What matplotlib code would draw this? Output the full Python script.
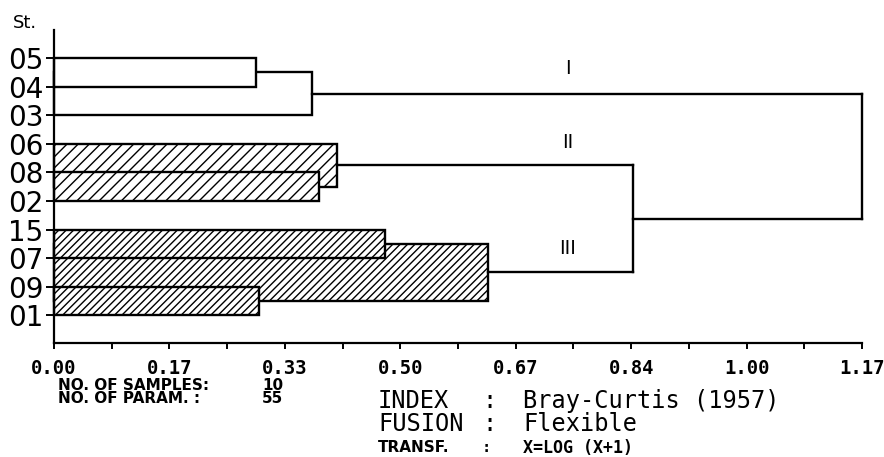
import matplotlib
matplotlib.use("Agg")
import matplotlib.pyplot as plt
from matplotlib.patches import Rectangle
import numpy as np


# Stations in dendrogram (leaf) order, top to bottom.
STATIONS = ["05", "04", "03", "06", "08", "02", "15", "07", "09", "01"]

# Fusions: leaves are 0..9, each fusion creates node 10, 11, ...
MERGE_LEFT = [0, 10, 4, 3, 8, 6, 15, 13, 11]
MERGE_RIGHT = [1, 2, 5, 12, 9, 7, 14, 16, 17]
MERGE_HEIGHT = [0.293, 0.373, 0.384, 0.410, 0.297, 0.480, 0.629, 0.838, 1.17]
MERGE_GROUP = ["I", "I", "II", "II", "III", "III", "III", None, None]

GROUP_LABELS = ["I", "II", "III"]
X_TICK_LABELS = ["0.00", "0.17", "0.33", "0.50", "0.67", "0.84", "1.00", "1.17"]

N_SAMPLES = 10
N_PARAMS = 55
INDEX_NAME = "Bray-Curtis (1957)"
FUSION_NAME = "Flexible"
TRANSF_NAME = "X=LOG (X+1)"

W, H = 884, 457
MONO = "DejaVu Sans Mono"
# hatch spacing ~ dpi / (3 * count) px -> about 11 px and 7.5 px
HATCH = {"I": None, "II": "//////", "III": "/////////"}


def px(x, y):
    return x / W, 1 - y / H


def build_dendrogram() -> None:
    plt.rcParams["hatch.linewidth"] = 0.5

    fig = plt.figure(figsize=(W / 200, H / 200), dpi=200)
    ax = fig.add_axes([54 / W, (H - 343) / H, (862 - 54) / W, (343 - 30) / H])

    n = len(STATIONS)
    ypos = list(range(n))
    height = [0.0] * n
    for l, r, h in zip(MERGE_LEFT, MERGE_RIGHT, MERGE_HEIGHT):
        ypos.append((ypos[l] + ypos[r]) / 2)
        height.append(h)

    # Within-group fusions as boxes, parents first so children cover them.
    for k in reversed(range(len(MERGE_HEIGHT))):
        grp = MERGE_GROUP[k]
        if grp is None:
            continue
        l, r, h = MERGE_LEFT[k], MERGE_RIGHT[k], MERGE_HEIGHT[k]
        ax.add_patch(Rectangle((0, ypos[l]), h, ypos[r] - ypos[l],
                               facecolor="white", edgecolor="black",
                               hatch=HATCH[grp], linewidth=0.85, clip_on=False))

    # Between-group fusions as plain links.
    for k in range(len(MERGE_HEIGHT)):
        if MERGE_GROUP[k] is not None:
            continue
        l, r, h = MERGE_LEFT[k], MERGE_RIGHT[k], MERGE_HEIGHT[k]
        for c in (l, r):
            ax.plot([height[c], h], [ypos[c], ypos[c]], color="black",
                    linewidth=0.85, clip_on=False, solid_capstyle="projecting")
        ax.plot([h, h], [ypos[l], ypos[r]], color="black", linewidth=0.85,
                clip_on=False, solid_capstyle="projecting")

    for lab, (gx, gy) in zip(GROUP_LABELS, [(0.744, 0.38), (0.744, 2.94), (0.744, 6.68)]):
        ax.text(gx, gy, lab, ha="center", va="center", fontsize=7,
                fontfamily="DejaVu Sans")

    ax.set_xlim(0, 1.17)
    ax.set_ylim(9.97, -0.98)

    major = np.linspace(0, 1.17, len(X_TICK_LABELS))
    minor = np.linspace(0, 1.17, 2 * len(X_TICK_LABELS) - 1)
    ax.set_xticks(major, X_TICK_LABELS)
    ax.set_xticks(minor, minor=True)
    ax.tick_params(axis="x", which="both", direction="out", length=2.2,
                   width=0.7, pad=3.5, labelsize=6.8)
    for t in ax.get_xticklabels():
        t.set_fontfamily(MONO)
        t.set_fontweight("bold")

    ax.set_yticks(range(n), STATIONS)
    ax.tick_params(axis="y", direction="out", length=2.9, width=0.7, pad=1,
                   labelsize=10)

    for side in ("top", "right"):
        ax.spines[side].set_visible(False)
    for side in ("left", "bottom"):
        ax.spines[side].set_linewidth(0.8)

    fig.text(*px(25, 23), "St.", ha="center", va="center", fontsize=6.5)

    small = dict(fontfamily="DejaVu Sans", fontweight="bold", fontsize=5.5,
                 va="center", linespacing=0.78)
    fig.text(*px(58, 392), "NO. OF SAMPLES:\nNO. OF PARAM. :", **small)
    fig.text(*px(262, 392), f"{N_SAMPLES}\n{N_PARAMS}", **small)

    big = dict(fontfamily=MONO, fontsize=8.5, va="center")
    fig.text(*px(378, 401), "INDEX", **big)
    fig.text(*px(482, 401), ":", **big)
    fig.text(*px(523, 401), INDEX_NAME, **big)
    fig.text(*px(378, 424), "FUSION", **big)
    fig.text(*px(482, 424), ":", **big)
    fig.text(*px(523, 424), FUSION_NAME, **big)
    fig.text(*px(378, 448), "TRANSF.", fontfamily="DejaVu Sans",
             fontweight="bold", fontsize=5.5, va="center")
    fig.text(*px(482, 448), ":", fontfamily=MONO, fontweight="bold",
             fontsize=5.5, va="center")
    fig.text(*px(523, 448), TRANSF_NAME, fontfamily=MONO, fontweight="bold",
             fontsize=6.0, va="center")

    fig.savefig("out.png", dpi=200, facecolor="white")
    plt.close(fig)


if __name__ == "__main__":
    build_dendrogram()
